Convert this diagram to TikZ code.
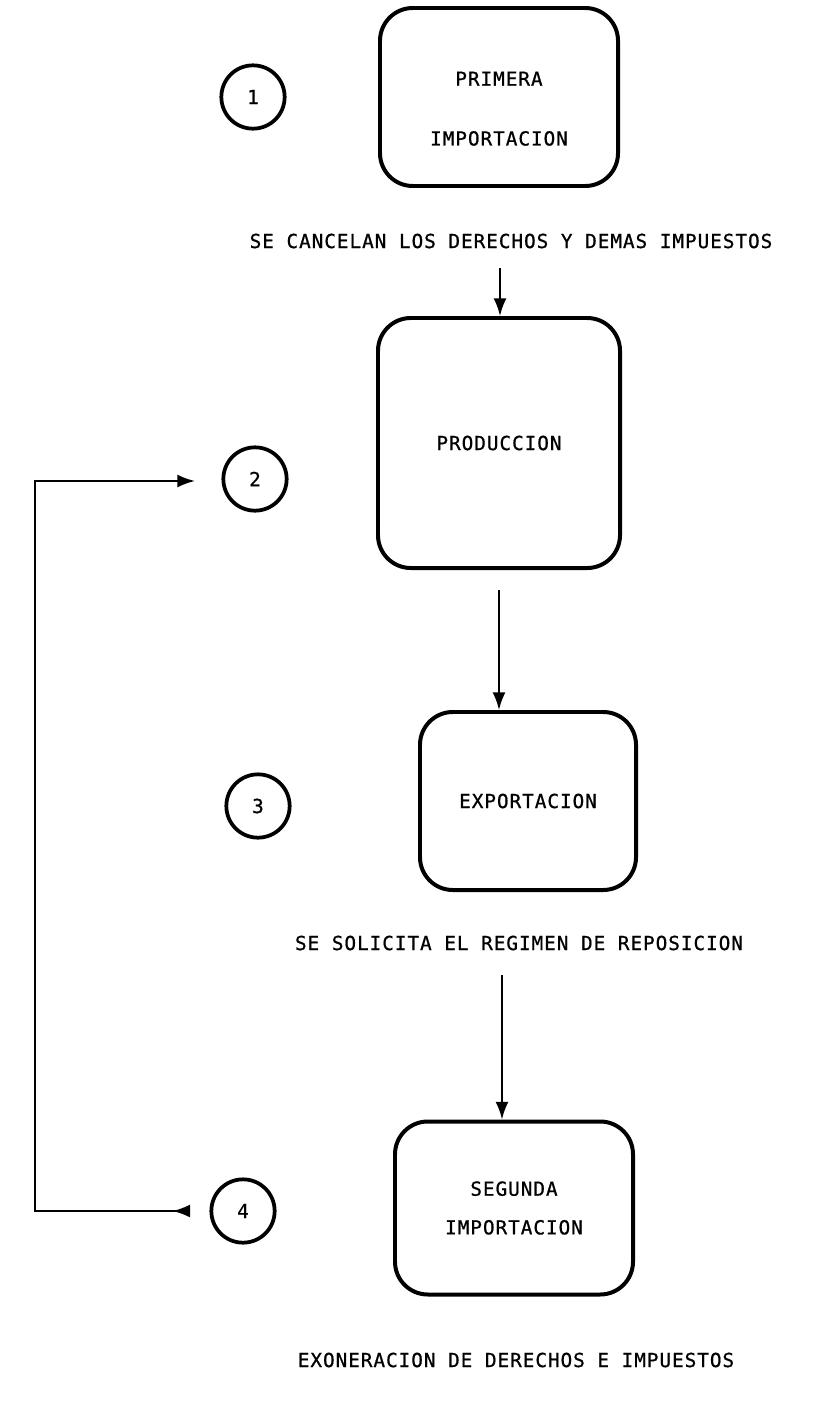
\documentclass[tikz,border=0pt]{standalone}
\usepackage{fontspec}
\setmonofont{DejaVu Sans Mono}[LetterSpace=5,UprightFeatures={FakeBold=0.8}]
\usepackage{tikz}
\usetikzlibrary{positioning,arrows.meta}

\begin{document}
\begin{tikzpicture}[x=0.03cm,y=-0.03cm,
    font=\ttfamily\fontsize{16.5}{20}\selectfont,
    paso/.style={draw,line width=3.4pt,rounded corners=28pt,align=center,inner sep=0pt},
    num/.style={draw,circle,line width=3.2pt,minimum size=1.9cm,inner sep=0pt},
    flecha/.style={-{Latex[length=15pt,width=11pt]},line width=1.7pt}]
  \useasboundingbox (0,0) rectangle (814,1426);
  % etapas
  \node[paso,minimum width=7.14cm,minimum height=5.34cm] (imp1) at (499,97)
       {\rule{0pt}{32pt}PRIMERA\\[31pt]IMPORTACION};
  \node[paso,minimum width=7.26cm,minimum height=7.5cm] (prod) at (499,443) {PRODUCCION};
  \node[paso,minimum width=6.48cm,minimum height=5.34cm] (expo) at (528,801) {EXPORTACION};
  \node[paso,minimum width=7.14cm,minimum height=5.19cm] (imp2) at (514,1208)
       {SEGUNDA\\[13pt]IMPORTACION};
  % numeros
  \node[num] (n1) at (253,97) {1};
  \node[num] (n2) at (255,479) {2};
  \node[num] (n3) at (258,806) {3};
  \node[num] (n4) at (243,1211) {4};
  % textos
  \node (t1) at (511,241) {SE CANCELAN LOS DERECHOS Y DEMAS IMPUESTOS};
  \node (t2) at (519,943) {SE SOLICITA EL REGIMEN DE REPOSICION};
  \node (t3) at (516,1360) {EXONERACION DE DERECHOS E IMPUESTOS};
  % flechas
  \coordinate (a1) at (500,268);
  \coordinate (a2) at (499,590);
  \coordinate (a3) at (502,975);
  \draw[flecha] (a1) -- (a1 |- prod.north);
  \draw[flecha] (a2) -- (a2 |- expo.north);
  \draw[flecha] (a3) -- (a3 |- imp2.north);
  % retorno
  \coordinate (r4) at (190,1211);
  \coordinate (r2) at (195,481);
  \coordinate (rl) at (35,1211);
  \draw[flecha,{Latex[length=15pt,width=11pt,reversed]}-{Latex[length=15pt,width=11pt]}]
       (r4) -- (rl) |- (r2);
\end{tikzpicture}
\end{document}
